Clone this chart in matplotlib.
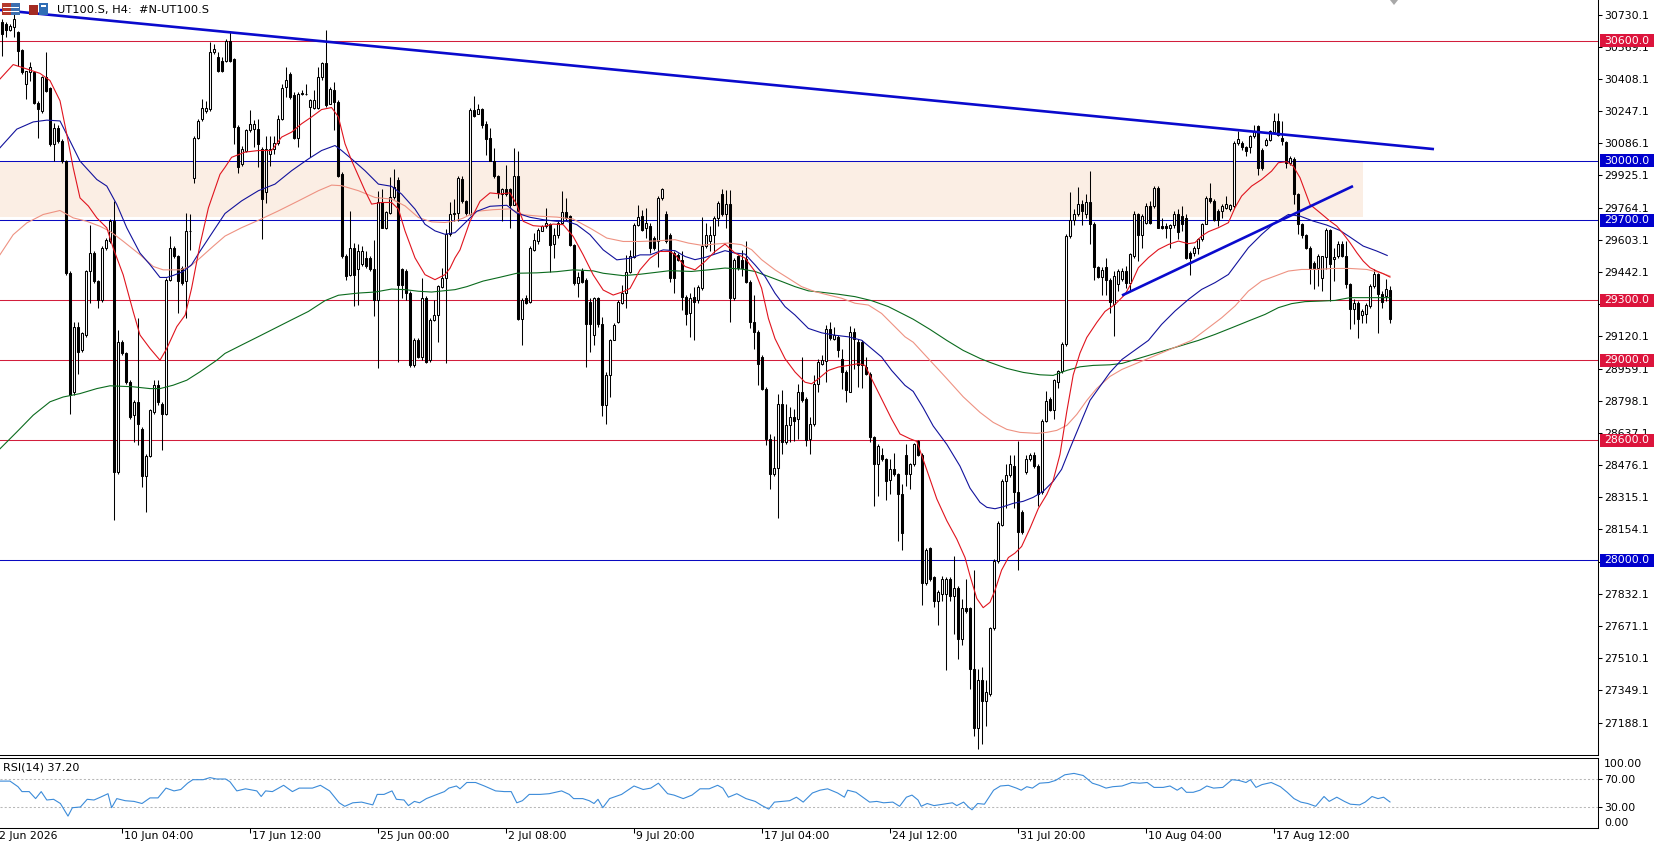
import numpy as np
import matplotlib
matplotlib.use("Agg")
import matplotlib.pyplot as plt
import matplotlib.transforms as mtransforms
from matplotlib.patches import Rectangle, Polygon

# H4 candles, one value per bar (bar 0 = 2 Jun 2026)
opens = [
    30692, 30684, 30654, 30667, 30642, 30553, 30383, 30441, 30441, 30290,
    30249, 30419, 30362, 30081, 30165, 30098, 29998, 29437, 28843, 29169,
    29052, 29127, 29445, 29537, 29395, 29303, 29562, 29596, 29696, 28441,
    29094, 29035, 28893, 28725, 28792, 28658, 28424, 28524, 28742, 28876,
    28784, 28734, 29403, 29562, 29520, 29462, 29395, 29646, 29914, 30115,
    30207, 30249, 30257, 30542, 30516, 30500, 30500, 30600,
    30506, 30167, 29983, 30050, 30154, 30159, 30159, 30058, 29840, 30033,
    30058, 30087, 30209, 30369, 30432, 30327, 30114, 30332, 30335, 30268,
    30265, 30265, 30416, 30486, 30285, 30352, 30293, 29933, 29522, 29429,
    29560, 29455, 29480, 29510, 29510, 29455, 29304, 29790, 29661, 29735,
    29819, 29902, 29455, 29446, 29337, 28977, 29102, 29019, 29312, 29002,
    29203, 29228, 29366, 29413, 29631, 29731,
    29737, 29910, 29796, 29732, 30252, 30235, 30257, 30181, 30111, 30000,
    29922, 29833, 29855, 29855, 29779, 29922, 29206, 29314, 29294, 29553,
    29598, 29649, 29670, 29682, 29582, 29625, 29687, 29742, 29721, 29575,
    29386, 29448, 29402, 29294, 29126, 29310, 29180, 28778, 28925, 29101,
    29193, 29285, 29335, 29444, 29515, 29679, 29721, 29662, 29670, 29612,
    29595, 29813, 29732, 29629, 29536, 29528,
    29504, 29319, 29235, 29319, 29302, 29364, 29571, 29596, 29629, 29713,
    29830, 29730, 29780, 29311, 29520, 29504, 29509, 29394, 29193, 29143,
    29017, 28858, 28606, 28430, 28464, 28782, 28590, 28677, 28715, 28707,
    28844, 28808, 28606, 28682, 28883, 28984, 28995, 29156, 29109, 29118,
    29009, 28942, 28844, 29140, 29093, 29093, 28967, 28933, 28615, 28481,
    28526, 28506, 28402, 28456, 28430, 28330,
    28526, 28434, 28480, 28595, 28529, 27887, 28060, 27914, 27796, 27832,
    27832, 27905, 27823, 27859, 27604, 27763, 27759, 27458, 27160, 27400,
    27294, 27330, 27659, 27996, 28179, 28398, 28425, 28474, 28343, 28243,
    28443, 28507, 28529, 28474, 28343, 28699, 28808, 28754, 28891, 28945,
    29082, 29621, 29703, 29730, 29781, 29730, 29794, 29684, 29465, 29416,
    29465, 29402,
    29280, 29380, 29405, 29447, 29388, 29522, 29730, 29627, 29689, 29772,
    29772, 29864, 29672, 29672, 29660, 29677, 29730, 29722, 29714, 29539,
    29539, 29564, 29605, 29684, 29814, 29797, 29747, 29747, 29764, 29755,
    29772, 30089, 30089, 30067, 30067, 30122, 30172, 30055, 30080, 30105,
    30144, 30200, 30114, 30094, 29989, 30009, 29830, 29684, 29627, 29560,
    29489, 29464,
    29414, 29517, 29650, 29505, 29522, 29580, 29522, 29384, 29255, 29289,
    29227, 29230, 29272, 29372, 29430, 29334, 29322, 29350,
]
highs = [
    30709, 30692, 30684, 30734, 30650, 30558, 30449, 30491, 30449, 30299,
    30424, 30542, 30369, 30190, 30178, 30106, 30001, 29445, 29194, 29194,
    29144, 29453, 29679, 29546, 29403, 29571, 29612, 29705, 29797, 29152,
    29102, 29043, 28901, 28801, 29211, 28667, 28533, 28759, 28901, 28901,
    28792, 29412, 29621, 29571, 29529, 29470, 29738, 29730, 30123, 30207,
    30307, 30299, 30592, 30583, 30542, 30516, 30609, 30650,
    30511, 30176, 30075, 30159, 30251, 30201, 30209, 30067, 30125, 30125,
    30125, 30229, 30385, 30469, 30444, 30343, 30343, 30352, 30385, 30310,
    30352, 30469, 30494, 30654, 30369, 30394, 30305, 29941, 29530, 29748,
    29589, 29580, 29572, 29547, 29522, 29601, 29849, 29857, 29748, 29916,
    29958, 29916, 29463, 29455, 29346, 29111, 29111, 29413, 29321, 29212,
    29304, 29379, 29463, 29656, 29790, 29807,
    29922, 29922, 29804, 30265, 30324, 30282, 30265, 30198, 30164, 30064,
    29930, 29863, 29980, 29863, 30064, 30047, 29310, 29327, 29570, 29637,
    29662, 29679, 29763, 29687, 29662, 29696, 29846, 29813, 29729, 29582,
    29444, 29461, 29411, 29310, 29319, 29319, 29218, 28942, 29109, 29185,
    29302, 29377, 29528, 29553, 29687, 29776, 29754, 29763, 29687, 29620,
    29821, 29863, 29746, 29637, 29545, 29536,
    29545, 29327, 29336, 29369, 29378, 29716, 29688, 29671, 29722, 29797,
    29860, 29850, 29850, 29512, 29529, 29554, 29599, 29403, 29327, 29151,
    29026, 28866, 28631, 28623, 28833, 28850, 28782, 28766, 28757, 28883,
    29017, 28816, 28715, 28925, 29009, 29026, 29176, 29193, 29168, 29126,
    29059, 28950, 29173, 29163, 29109, 29101, 29017, 28942, 28623, 28581,
    28564, 28514, 28506, 28539, 28439, 28380,
    28580, 28489, 28589, 28602, 28535, 28060, 28069, 27923, 27850, 27923,
    27914, 27914, 28024, 27869, 27805, 27905, 27768, 27951, 27458, 27467,
    27403, 27668, 28005, 28197, 28407, 28480, 28526, 28526, 28599, 28252,
    28526, 28535, 28544, 28480, 28708, 28845, 28818, 28909, 28954, 29091,
    29630, 29840, 29757, 29867, 29803, 29830, 29949, 29694, 29474, 29465,
    29511, 29411,
    29445, 29455, 29464, 29472, 29539, 29747, 29739, 29730, 29789, 29797,
    29872, 29872, 29714, 29689, 29684, 29747, 29755, 29772, 29730, 29547,
    29572, 29614, 29689, 29822, 29889, 29805, 29755, 29780, 29822, 29784,
    30097, 30150, 30097, 30072, 30130, 30177, 30180, 30064, 30114, 30155,
    30239, 30239, 30197, 30097, 30022, 30017, 29839, 29689, 29630, 29572,
    29497, 29530,
    29522, 29664, 29655, 29564, 29597, 29597, 29597, 29389, 29305, 29297,
    29255, 29289, 29380, 29455, 29439, 29347, 29405, 29372,
]
lows = [
    30525, 30617, 30650, 30617, 30475, 30433, 30307, 30399, 30282, 30115,
    30240, 30341, 30073, 29997, 30090, 29989, 29428, 28734, 28826, 28934,
    29043, 29119, 29286, 29386, 29261, 29294, 29554, 29587, 28200, 28432,
    29027, 28884, 28708, 28591, 28575, 28365, 28240, 28516, 28734, 28775,
    28550, 28725, 29395, 29512, 29236, 29378, 29211, 29554, 29889, 30106,
    30198, 30240, 30249, 30533, 30441, 30441, 30491, 30491,
    30084, 29936, 29975, 30042, 30142, 30067, 29966, 29606, 29785, 29975,
    30033, 30080, 30201, 30318, 30310, 30109, 30070, 30327, 30327, 30020,
    30260, 30260, 30405, 30268, 30281, 30151, 29916, 29513, 29404, 29421,
    29270, 29279, 29471, 29463, 29446, 29220, 28960, 29661, 29656, 29731,
    29807, 28993, 29312, 29304, 28968, 28968, 29010, 29002, 28985, 28993,
    29195, 29094, 29362, 28985, 29622, 29698,
    29696, 29788, 29729, 29729, 30218, 30232, 30164, 30030, 29997, 29913,
    29813, 29696, 29821, 29662, 29776, 29201, 29076, 29280, 29285, 29545,
    29582, 29645, 29662, 29441, 29511, 29612, 29682, 29704, 29570, 29377,
    29319, 29386, 28967, 29042, 29076, 29168, 28724, 28680, 28816, 29101,
    29185, 29280, 29260, 29436, 29511, 29670, 29645, 29612, 29536, 29553,
    29469, 29804, 29587, 29394, 29335, 29495,
    29252, 29177, 29118, 29101, 29286, 29353, 29562, 29545, 29537, 29671,
    29720, 29660, 29193, 29302, 29453, 29420, 29386, 29160, 29059, 28875,
    28850, 28576, 28355, 28422, 28212, 28531, 28581, 28590, 28598, 28606,
    28791, 28573, 28531, 28673, 28841, 28975, 28891, 29101, 29101, 29017,
    28858, 28794, 28841, 28959, 28866, 28861, 28925, 28590, 28271, 28321,
    28497, 28304, 28330, 28422, 28095, 28053,
    28370, 28356, 28471, 28522, 27777, 27878, 27896, 27768, 27677, 27796,
    27449, 27796, 27631, 27504, 27577, 27736, 27358, 27120, 27056, 27080,
    27170, 27321, 27650, 27987, 28170, 28261, 28416, 28261, 27951, 28133,
    28434, 28498, 28462, 28270, 28334, 28690, 28745, 28708, 28863, 28936,
    29073, 29611, 29675, 29721, 29675, 29712, 29584, 29402, 29411, 29329,
    29329, 29237,
    29122, 29347, 29397, 29364, 29347, 29514, 29497, 29564, 29680, 29680,
    29764, 29660, 29655, 29614, 29564, 29664, 29605, 29647, 29505, 29427,
    29522, 29530, 29597, 29680, 29789, 29697, 29672, 29714, 29755, 29747,
    29764, 30080, 30055, 30022, 30039, 30114, 29930, 29955, 30072, 30097,
    30139, 30122, 30080, 29964, 29980, 29780, 29630, 29614, 29555, 29380,
    29355, 29372,
    29347, 29455, 29297, 29397, 29514, 29517, 29364, 29155, 29180, 29114,
    29189, 29189, 29264, 29364, 29139, 29264, 29297, 29189,
]
closes = [
    30634, 30654, 30675, 30709, 30550, 30441, 30446, 30466, 30290, 30257,
    30419, 30349, 30081, 30165, 30098, 29998, 29437, 28826, 29169, 29043,
    29135, 29445, 29537, 29395, 29303, 29562, 29604, 29696, 28441, 29094,
    29035, 28893, 28717, 28792, 28683, 28424, 28524, 28750, 28876, 28792,
    28734, 29403, 29562, 29520, 29395, 29386, 29646, 29649, 30115, 30198,
    30265, 30265, 30542, 30558, 30449, 30449, 30600, 30500,
    30167, 29966, 30058, 30154, 30181, 30181, 30084, 29807, 30058, 30058,
    30087, 30209, 30364, 30402, 30318, 30114, 30332, 30338, 30332, 30302,
    30305, 30416, 30486, 30276, 30360, 30293, 29924, 29522, 29421, 29564,
    29429, 29547, 29547, 29471, 29455, 29304, 29790, 29664, 29740, 29819,
    29866, 29379, 29379, 29337, 28977, 29102, 29019, 29312, 28993, 29203,
    29228, 29371, 29413, 29631, 29731, 29738,
    29913, 29796, 29737, 30252, 30223, 30257, 30178, 30106, 30000, 29922,
    29838, 29855, 29833, 29779, 29922, 29206, 29302, 29285, 29562, 29603,
    29654, 29670, 29687, 29578, 29625, 29687, 29742, 29712, 29575, 29386,
    29419, 29394, 29180, 29180, 29310, 29180, 28778, 28925, 29101, 29176,
    29290, 29335, 29444, 29520, 29679, 29716, 29654, 29687, 29562, 29562,
    29813, 29855, 29595, 29411, 29411, 29503,
    29319, 29230, 29311, 29294, 29369, 29571, 29626, 29629, 29713, 29789,
    29730, 29780, 29311, 29504, 29462, 29462, 29394, 29193, 29143, 28984,
    28858, 28606, 28430, 28464, 28782, 28590, 28677, 28715, 28699, 28844,
    28804, 28603, 28682, 28883, 28992, 29000, 29156, 29113, 29126, 29051,
    28942, 28850, 29140, 29109, 28975, 28975, 28933, 28615, 28481, 28573,
    28506, 28397, 28456, 28430, 28330, 28137,
    28434, 28484, 28580, 28529, 27887, 28051, 27905, 27796, 27841, 27905,
    27905, 27823, 27859, 27604, 27759, 27745, 27458, 27160, 27400, 27294,
    27339, 27659, 27996, 28188, 28398, 28425, 28480, 28343, 28142, 28142,
    28507, 28526, 28471, 28334, 28699, 28799, 28754, 28900, 28945, 29082,
    29621, 29703, 29730, 29781, 29748, 29794, 29684, 29465, 29416, 29453,
    29402, 29292,
    29420, 29447, 29447, 29388, 29530, 29730, 29627, 29722, 29772, 29689,
    29864, 29664, 29664, 29664, 29677, 29730, 29644, 29680, 29514, 29514,
    29564, 29605, 29684, 29814, 29797, 29700, 29700, 29772, 29780, 29777,
    30089, 30110, 30067, 30047, 30122, 30144, 29964, 29964, 30105, 30147,
    30200, 30130, 30097, 29989, 30014, 29830, 29680, 29627, 29560, 29464,
    29464, 29522,
    29522, 29650, 29480, 29517, 29580, 29522, 29384, 29255, 29289, 29205,
    29247, 29277, 29372, 29430, 29334, 29294, 29355, 29205,
]

# moving averages: (bar, price)
ma_red = [
    (-0.5, 30408), (2.8, 30480), (6.2, 30458), (9.5, 30436), (12, 30400), (14.5, 30299),
    (16.2, 30131), (17.8, 29964), (19.5, 29813), (21.6, 29772), (23.7, 29713), (26.2, 29663),
    (27.8, 29562), (30.3, 29428), (32.8, 29244), (34.5, 29127), (37, 29060), (39.5, 29001),
    (41.2, 29060), (43.7, 29169), (45.8, 29227), (47.4, 29361), (49.5, 29579), (51.6, 29763),
    (54.5, 29931), (55.75, 29966), (57.4, 30016), (60.75, 30042), (64.1, 30050), (67.4, 30050),
    (69.9, 30117), (72.4, 30142), (74.9, 30184), (77.4, 30218), (79.9, 30255), (82.4, 30265),
    (84.1, 30218), (85.75, 30084), (87.4, 30000), (89.1, 29924), (90.75, 29849), (92.4, 29782),
    (94.9, 29790), (97.4, 29790), (99.1, 29757), (100.75, 29648), (103.25, 29513), (105.75, 29429),
    (108.25, 29404), (110.75, 29429), (112, 29461), (113.25, 29513), (114.5, 29553), (117, 29696),
    (119.5, 29796), (122, 29838), (124.5, 29833), (127, 29838), (128.7, 29779), (130.3, 29696),
    (132.8, 29674), (135.3, 29670), (137.8, 29682), (140.3, 29679), (142.8, 29620), (145.3, 29528),
    (147.8, 29428), (150.3, 29352), (152.8, 29327), (155.3, 29344), (157, 29360), (159.5, 29453),
    (162, 29511), (164.5, 29545), (167, 29545), (168.25, 29529), (170.75, 29470), (173.25, 29453),
    (175.75, 29495), (178.25, 29545), (180.75, 29582), (183.25, 29537), (185.75, 29512), (188.25, 29445),
    (189.9, 29361), (191.6, 29210), (193.25, 29109), (195.75, 29009), (198.25, 28942), (200.75, 28891),
    (202.4, 28883), (204.1, 28908), (206.6, 28950), (209.1, 28967), (211.6, 28975), (214.1, 28984),
    (215.75, 28975), (217.4, 28908), (219.9, 28808), (222.4, 28707), (224.5, 28632), (227, 28608),
    (228.7, 28595), (231.2, 28452), (233.7, 28307), (236.2, 28198), (238.7, 28106), (240.75, 28014),
    (242, 27923), (243.7, 27809), (245.3, 27763), (247, 27790), (248.25, 27850), (249.9, 27951),
    (251.6, 28014), (253.25, 28036), (254.9, 28069), (257, 28160), (259.1, 28260), (261.2, 28330),
    (262.8, 28400), (264.5, 28530), (266.2, 28745), (267.8, 28927), (269.5, 29037), (271.2, 29115),
    (273.7, 29190), (275.75, 29245), (278.25, 29280), (280.75, 29330), (282.4, 29389), (284.1, 29464),
    (286.6, 29514), (289.1, 29555), (291.6, 29580), (294.1, 29597), (296.6, 29584), (298.25, 29589),
    (299.9, 29622), (301.6, 29644), (304.1, 29664), (306.6, 29689), (308.25, 29764), (309.9, 29822),
    (312.4, 29872), (314.9, 29905), (317.4, 29947), (319.1, 29989), (321.2, 29994), (322.8, 29972),
    (324.5, 29914), (327, 29780), (329.5, 29739), (332, 29697), (333.7, 29672), (335.3, 29634),
    (337, 29589), (338.7, 29539), (340.3, 29497), (342, 29464), (343.7, 29447), (345.3, 29434),
    (347, 29417),
]
ma_blue = [
    (-0.5, 30064), (3.7, 30157), (7.8, 30193), (11.2, 30202), (14.5, 30198), (17, 30098),
    (19.5, 29997), (23.7, 29905), (26.2, 29872), (28.7, 29780), (31.2, 29663), (34.5, 29537),
    (37, 29479), (39.5, 29415), (41.2, 29415), (42.8, 29425), (45.3, 29445), (47.4, 29479),
    (49.5, 29546), (52.8, 29646), (55.75, 29735), (59.9, 29798), (64.1, 29849), (68.25, 29882),
    (72.4, 29949), (76.6, 30008), (79.9, 30050), (83.25, 30075), (84.9, 30050), (87.4, 30008),
    (90.75, 29949), (94.1, 29882), (97.4, 29871), (99.9, 29832), (103.25, 29757), (105.75, 29681),
    (108.25, 29648), (110.75, 29631), (113.25, 29639), (115.3, 29679), (118.7, 29746), (122, 29771),
    (126.2, 29776), (128.7, 29737), (132, 29716), (135.3, 29704), (138.7, 29696), (141.2, 29696),
    (143.7, 29679), (147, 29629), (150.3, 29553), (153.7, 29503), (157, 29511), (159.5, 29528),
    (162, 29528), (165.3, 29553), (168.25, 29549), (170.75, 29520), (173.25, 29504), (175.75, 29515),
    (178.25, 29532), (180.75, 29549), (183.25, 29537), (185.75, 29532), (188.25, 29478), (190.75, 29420),
    (193.25, 29336), (195.75, 29269), (198.25, 29227), (201.6, 29160), (204.9, 29138), (208.25, 29126),
    (211.6, 29118), (214.9, 29101), (217.4, 29059), (219.9, 29017), (222.4, 28950), (225.75, 28875),
    (227.8, 28845), (230.3, 28763), (232.8, 28672), (236.2, 28580), (239.5, 28471), (242, 28361),
    (244.5, 28290), (246.2, 28265), (248.25, 28258), (250.3, 28268), (252.8, 28285), (255.3, 28295),
    (257.8, 28315), (260.3, 28345), (262.8, 28395), (264.9, 28455), (267, 28560), (269.5, 28680),
    (272, 28800), (274.5, 28870), (277, 28940), (280, 29005), (286.6, 29100), (289.9, 29180),
    (293.25, 29247), (296.6, 29305), (299.9, 29355), (303.25, 29389), (306.6, 29430), (309.1, 29497),
    (311.6, 29564), (314.9, 29630), (318.25, 29689), (321.6, 29730), (324.5, 29722), (327.8, 29697),
    (331.2, 29677), (334.5, 29650), (337, 29617), (340.3, 29572), (343.7, 29547), (346.3, 29525),
]
ma_salmon = [
    (-0.5, 29529), (2.8, 29629), (6.2, 29688), (10.3, 29730), (14.5, 29750), (17.8, 29713),
    (21.2, 29696), (24.5, 29671), (27, 29646), (30.3, 29596), (34.5, 29529), (37.8, 29470),
    (40.3, 29453), (44.5, 29453), (47, 29470), (49.5, 29512), (52.8, 29571), (55.75, 29622),
    (59.9, 29664), (64.1, 29701), (69.1, 29748), (74.1, 29798), (79.1, 29849), (82.4, 29877),
    (84.9, 29874), (89.1, 29849), (93.25, 29815), (97.4, 29807), (100.75, 29773), (104.1, 29715),
    (107.4, 29693), (110.75, 29690), (113.25, 29698), (115.3, 29712), (118.7, 29746), (122.8, 29754),
    (127, 29758), (130.3, 29729), (134.5, 29721), (138.7, 29717), (142.8, 29707), (147, 29662),
    (151.2, 29612), (155.3, 29595), (159.5, 29595), (163.7, 29598), (168.25, 29604), (171.6, 29587),
    (174.9, 29576), (178.25, 29582), (181.6, 29587), (184.9, 29579), (187.4, 29554), (189.9, 29504),
    (193.25, 29453), (196.6, 29411), (199.9, 29369), (203.25, 29344), (206.6, 29327), (209.9, 29311),
    (213.25, 29286), (216.6, 29277), (219.9, 29235), (223.25, 29168), (225.75, 29118), (227.8, 29091),
    (232, 29000), (236.2, 28909), (240.3, 28818), (244.5, 28740), (247.8, 28690), (251.2, 28655),
    (254.5, 28640), (258.7, 28635), (261.2, 28640), (263.7, 28650), (266.2, 28675), (268.7, 28730),
    (271.2, 28800), (273.7, 28860), (277, 28920), (280, 28955), (297.4, 29100), (301.6, 29163),
    (304.9, 29213), (308.25, 29272), (311.6, 29347), (314.9, 29397), (318.25, 29422), (321.6, 29447),
    (324.9, 29455), (328.7, 29455), (332.8, 29460), (337, 29460), (341.2, 29455), (344.5, 29439),
    (347, 29422),
]
ma_green = [
    (-0.5, 28558), (3.7, 28642), (7.8, 28726), (12, 28793), (15.3, 28817), (19.5, 28834),
    (23.7, 28859), (27, 28873), (32.8, 28868), (37, 28859), (39.5, 28859), (42.8, 28876),
    (46.2, 28901), (49.5, 28943), (53.7, 29001), (55.75, 29035), (59.9, 29077), (64.1, 29119),
    (68.25, 29161), (72.4, 29203), (76.6, 29245), (80.75, 29299), (84.1, 29326), (89.1, 29337),
    (93.25, 29342), (97.4, 29357), (100.75, 29354), (104.1, 29346), (107.4, 29342), (110.75, 29349),
    (113.25, 29354), (116.2, 29369), (120.3, 29397), (124.5, 29416), (128.7, 29436), (133.7, 29438),
    (138.7, 29444), (142.8, 29453), (147.8, 29448), (150.3, 29436), (155.3, 29424), (159.5, 29431),
    (163.7, 29441), (167, 29449), (172.4, 29445), (176.6, 29453), (180.75, 29462), (184.9, 29457),
    (188.25, 29445), (191.6, 29420), (194.9, 29395), (198.25, 29369), (201.6, 29348), (204.9, 29341),
    (209.1, 29331), (213.25, 29319), (217.4, 29299), (221.6, 29269), (225.75, 29227), (227.8, 29206),
    (232, 29155), (236.2, 29100), (240.3, 29050), (244.5, 29010), (247, 28990), (251.2, 28960),
    (255.3, 28940), (259.5, 28928), (262.8, 28925), (266.2, 28950), (269.5, 28968), (272.8, 28975),
    (277, 28978), (280, 28985), (299.1, 29100), (303.25, 29130), (307.4, 29163), (311.6, 29197),
    (315.75, 29230), (319.1, 29264), (322.4, 29284), (325.75, 29294), (329.9, 29297), (333.25, 29300),
    (337, 29314), (341.2, 29314), (347, 29314),
]

# RSI(14)
rsi_x = [
    -0.5, 2, 4, 5, 6.8, 8.4, 9.8, 11.2, 12.9, 14.6,
    16.5, 17.6, 19.6, 21.3, 23, 24.6, 26.5, 27.4, 28.7, 30.8,
    33, 35, 37, 39, 41, 43, 44.7, 46.4, 47.7, 50.3,
    52, 53.6, 55.9, 57, 58.7, 60.9, 63.7, 64.8, 65.9, 67.6,
    70.4, 72.6, 74.3, 77.6, 79.6, 81.9, 84.3, 85.7, 87.7, 89.9,
    92.7, 93.8, 95.5, 97.5, 98.6, 100.5, 101.6, 103.1, 104.4, 106.1,
    108.3, 110.6, 111.7, 113.6, 114.5, 116.2, 118.4, 120.6, 123.4, 125.6,
    127.3, 128.7, 130.1, 131.8, 134.5, 136.8, 139.9, 141.8, 142.9, 145.2,
    146.8, 148, 149, 150.2, 151.9, 154.9, 158, 160.3, 162.2, 164.1,
    166.4, 168, 170.3, 172.5, 174.5, 176.8, 178.9, 180.2, 181.6, 183.7,
    186, 188.3, 190, 191.7, 193.1, 194.9, 196.9, 198.6, 200.3, 202.6,
    204.5, 206.4, 208.9, 210.6, 211.4, 213.5, 215.2, 216.9, 218.7, 220.4,
    222.7, 224.4, 226.1, 227.5, 229, 229.8, 231.3, 233, 235.3, 237.6,
    238.7, 240.4, 241.6, 242.5, 243.9, 245.6, 247.9, 249.6, 251.6, 253.6,
    254.8, 256.2, 257.6, 259.4, 261.7, 263.4, 265.7, 268, 270.3, 272.6,
    274.3, 276, 277.7, 280, 282.5, 284.4, 286.3, 288, 290.3, 292,
    293.8, 294.9, 296.1, 297.8, 299.5, 301.2, 302.9, 305.2, 307.5, 309.2,
    311, 312.1, 313.5, 315, 317.3, 319.6, 321.3, 323, 324.7, 326.4,
    328.4, 330.5, 331.8, 333.7, 335.6, 337.1, 339.4, 340.8, 342.5, 344,
    345.4, 347,
]
rsi_v = [
    67, 67, 59, 52, 52, 42, 52, 40, 41, 35,
    17, 29, 30, 41, 40, 44, 49, 29, 42, 39,
    38, 35, 43, 43, 57, 53, 55, 64, 69, 69,
    72, 70, 70, 66, 53, 56, 53, 45, 53, 52,
    61, 52, 57, 57, 61, 53, 36, 31, 36, 37,
    33, 48, 48, 53, 41, 40, 32, 38, 36, 42,
    47, 52, 57, 60, 56, 65, 65, 60, 53, 52,
    52, 36, 39, 48, 48, 49, 53, 48, 42, 42,
    39, 35, 41, 29, 42, 48, 60, 55, 57, 64,
    49, 47, 42, 47, 56, 56, 61, 57, 44, 49,
    42, 38, 32, 27, 37, 38, 39, 44, 37, 50,
    54, 56, 50, 44, 54, 51, 44, 37, 38, 36,
    37, 31, 44, 47, 40, 31, 35, 32, 34, 36,
    32, 37, 30, 26, 35, 34, 54, 60, 61, 57,
    54, 59, 57, 64, 65, 68, 76, 78, 75, 64,
    61, 57, 59, 60, 65, 64, 65, 58, 58, 60,
    54, 58, 51, 51, 54, 60, 57, 58, 69, 68,
    65, 69, 58, 62, 65, 59, 51, 42, 37, 35,
    31, 45, 38, 44, 38, 34, 33, 37, 45, 42,
    44, 37.2,
]

# horizontal levels and their colours
red_levels = [30600, 29300, 29000, 28600]
blue_levels = [30000, 29700, 28000]
zone = (29716, 30000)
# trendlines: (bar, price) end points
trend_down = [(-0.5, 30753), (358, 30057)]
trend_up = [(280, 29325), (337.75, 29872)]

date_ticks = [30, 62, 94, 126, 158, 190, 222, 254, 286, 318]
date_labels = ["10 Jun 04:00", "17 Jun 12:00", "25 Jun 00:00", "2 Jul 08:00", "9 Jul 20:00",
               "17 Jul 04:00", "24 Jul 12:00", "31 Jul 20:00", "10 Aug 04:00", "17 Aug 12:00"]
price_ticks = [30730.1 - 161 * k for k in range(23)]
# scale labels that sit fully under a level label are not visible
hidden_ticks = [29281.1, 27993.1]

W, H = 1658, 843
PLOT_R = 1598
fig = plt.figure(figsize=(W / 100, H / 100), dpi=100)
ax = fig.add_axes([0, (H - 755) / H, PLOT_R / W, 755 / H])
rx = fig.add_axes([0, (H - 828) / H, PLOT_R / W, 70 / H])

xmax = PLOT_R / 4 - 0.5
ax.set_xlim(-0.5, xmax)
ax.set_ylim(27026, 30803)
rx.set_xlim(-0.5, xmax)
rx.set_ylim(0, 100)

RED = '#D21E3C'
BLUE = '#0A0AC0'

# shaded zone and horizontal lines
ax.add_patch(Rectangle((-0.5, zone[0]), 340.75, zone[1] - zone[0],
                       facecolor='#FBEEE4', edgecolor='none', zorder=1))
for lv in red_levels:
    ax.axhline(lv, color=RED, lw=0.75, zorder=2)
for lv in blue_levels:
    ax.axhline(lv, color=BLUE, lw=0.75, zorder=2)

# candles
o = np.array(opens, dtype=float)
h = np.array(highs, dtype=float)
l = np.array(lows, dtype=float)
c = np.array(closes, dtype=float)
idx = np.arange(len(c))
up = c >= o
ax.vlines(idx, l, h, color='black', lw=0.75, zorder=3)
ax.bar(idx[up], (c - o)[up], bottom=o[up], width=0.5, facecolor='white',
       edgecolor='black', linewidth=0.75, zorder=4)
ax.bar(idx[~up], (o - c)[~up], bottom=c[~up], width=0.5, facecolor='black',
       edgecolor='black', linewidth=0.75, zorder=4)

# moving averages
for pts, col in [(ma_green, '#0B6B1E'), (ma_salmon, '#EE9282'),
                 (ma_blue, '#12129C'), (ma_red, '#E0141E')]:
    xs, ys = zip(*pts)
    ax.plot(xs, ys, color=col, lw=0.8, zorder=5)

# trendlines
for tl in (trend_down, trend_up):
    xs, ys = zip(*tl)
    ax.plot(xs, ys, color='#0A0ACD', lw=1.9, zorder=6, solid_capstyle='butt')

# price axis
ax.yaxis.tick_right()
ax.set_yticks(price_ticks)
ax.set_yticklabels(["" if any(abs(v - hv) < 0.01 for hv in hidden_ticks) else f"{v:.1f}"
                    for v in price_ticks])
ax.tick_params(axis='y', direction='out', length=3, width=0.75, pad=1.5,
               labelsize=7.8, colors='black')
ax.tick_params(axis='x', bottom=False, labelbottom=False)
for s in ['left', 'top']:
    ax.spines[s].set_visible(False)
for s in ['right', 'bottom']:
    ax.spines[s].set_linewidth(0.75)

# price labels of the horizontal lines
trans = mtransforms.blended_transform_factory(ax.transAxes, ax.transData)
for lv, col in [(v, '#DC143C') for v in red_levels] + [(v, '#0000CD') for v in blue_levels]:
    ax.add_patch(Rectangle((1600 / PLOT_R, lv - 33), 54 / PLOT_R, 66, transform=trans,
                           facecolor=col, edgecolor='none', clip_on=False, zorder=10))
    ax.text(1604 / PLOT_R, lv, f"{lv:.1f}", transform=trans, color='white', fontsize=7.8,
            va='center', ha='left', clip_on=False, zorder=11)

# RSI window
rx.axhline(70, color='#B8B8B8', lw=0.75, ls=(0, (2, 2)))
rx.axhline(30, color='#B8B8B8', lw=0.75, ls=(0, (2, 2)))
rx.plot(rsi_x, rsi_v, color='#3B8BD9', lw=0.8)
rx.yaxis.tick_right()
rx.set_yticks([70, 30])
rx.set_yticklabels(["70.00", "30.00"])
rx.tick_params(axis='y', direction='out', length=3, width=0.75, pad=1.5, labelsize=7.8)
rtrans = mtransforms.blended_transform_factory(rx.transAxes, rx.transData)
rx.text(1604 / PLOT_R, 91, "100.00", transform=rtrans, fontsize=7.8, va='center', clip_on=False)
rx.text(1604 / PLOT_R, 7, "0.00", transform=rtrans, fontsize=7.8, va='center', clip_on=False)
rx.text(0.3, 0.87, "RSI(14) 37.20", transform=mtransforms.blended_transform_factory(rx.transData, rx.transAxes),
        fontsize=8, va='center', ha='left')
rx.spines['left'].set_visible(False)
for s in ['right', 'bottom', 'top']:
    rx.spines[s].set_linewidth(0.75)

# time axis
rx.set_xticks(date_ticks)
rx.set_xticklabels([])
rx.tick_params(axis='x', direction='out', length=3.5, width=0.75)
dtrans = mtransforms.blended_transform_factory(rx.transData, rx.transAxes)
rx.text(-0.8, -0.115, "2 Jun 2026", transform=dtrans, fontsize=7.8, va='center', ha='left', clip_on=False)
for b, lab in zip(date_ticks, date_labels):
    rx.text(b + 0.6, -0.115, lab, transform=dtrans, fontsize=7.8, va='center', ha='left', clip_on=False)

# chart title and small toolbar icons at top left
def px(x, y):
    return (x / W, 1 - y / H)

fig.text(57 / W, 1 - 10.5 / H, "UT100.S, H4:  #N-UT100.S", fontsize=8.2, va='center', ha='left', zorder=20)
icons = [(2, 3, 9, 12, '#B5392C'), (11, 3, 9, 12, '#3D6FB0'),
         (29, 5, 9, 10, '#A32A22'), (39, 3, 9, 12, '#2F6DB5')]
for x0, y0, w, hh, col in icons:
    fig.patches.append(Rectangle(px(x0, y0 + hh), w / W, hh / H, transform=fig.transFigure,
                                 facecolor=col, edgecolor='none', zorder=20))
for y0 in (7, 11):
    fig.patches.append(Rectangle(px(3, y0 + 1), 16 / W, 1 / H, transform=fig.transFigure,
                                 facecolor='white', edgecolor='none', zorder=21))
fig.patches.append(Rectangle(px(41, 7), 5 / W, 2 / H, transform=fig.transFigure,
                             facecolor='white', edgecolor='none', zorder=21))
fig.patches.append(Polygon([px(1390, 0), px(1398, 0), px(1394, 5)], closed=True,
                           transform=fig.transFigure, facecolor='#A8A8A8', edgecolor='none'))

fig.savefig("out.png", dpi=100)
plt.close(fig)
